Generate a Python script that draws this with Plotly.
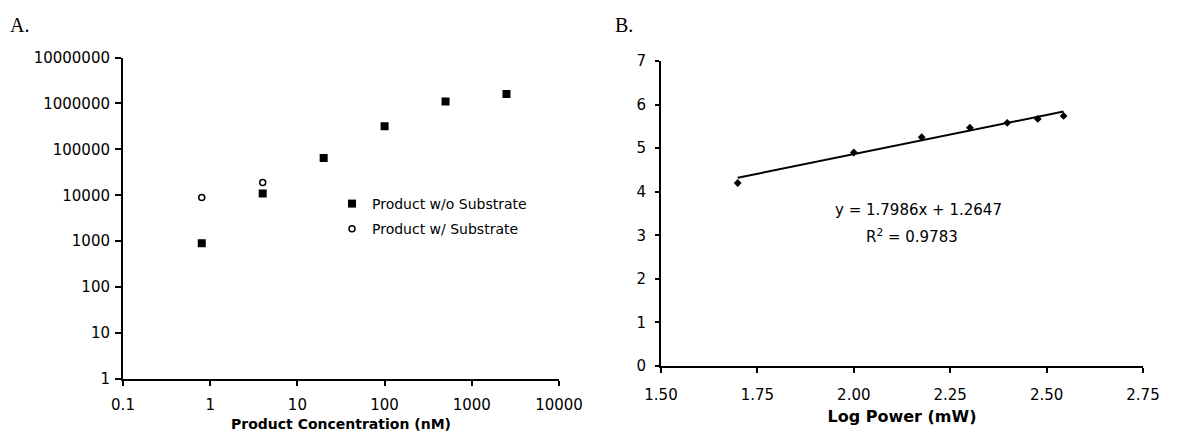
import numpy as np
import plotly.graph_objects as go

# Panel A: signal vs product concentration (log-log)
conc_no_sub = [0.8, 4, 20, 100, 500, 2500]
signal_no_sub = [900, 11000, 65000, 320000, 1100000, 1600000]
conc_with_sub = [0.8, 4]
signal_with_sub = [9000, 19000]

a_xticks = [0.1, 1, 10, 100, 1000, 10000]
a_xtick_text = ["0.1", "1", "10", "100", "1000", "10000"]
a_yticks = [1, 10, 100, 1000, 10000, 100000, 1000000, 10000000]
a_ytick_text = ["1", "10", "100", "1000", "10000", "100000", "1000000", "10000000"]

# Panel B: log signal vs log laser power
power_mw = [50, 100, 150, 200, 250, 300, 350]
log_signal = [4.20, 4.90, 5.25, 5.47, 5.58, 5.67, 5.74]
fit_slope = 1.7986
fit_intercept = 1.2647
fit_r2 = 0.9783

b_xticks = [1.50, 1.75, 2.00, 2.25, 2.50, 2.75]
b_yticks = [0, 1, 2, 3, 4, 5, 6, 7]

log_power = np.log10(power_mw)
fit_x = np.array([log_power.min(), log_power.max()])
fit_y = fit_slope * fit_x + fit_intercept

FONT = "DejaVu Sans"
BLACK = "#000000"
W, H = 1181, 432

fig = go.Figure()

fig.add_trace(go.Scatter(
    x=conc_no_sub, y=signal_no_sub, mode="markers",
    name="Product w/o Substrate", legendgroup="a",
    marker=dict(symbol="square", size=8, color=BLACK),
    xaxis="x", yaxis="y",
))
fig.add_trace(go.Scatter(
    x=conc_with_sub, y=signal_with_sub, mode="markers",
    name="Product w/ Substrate", legendgroup="b",
    marker=dict(symbol="circle-open", size=6, color=BLACK, line=dict(width=1.5, color=BLACK)),
    xaxis="x", yaxis="y",
))

fig.add_trace(go.Scatter(
    x=log_power, y=log_signal, mode="markers", showlegend=False,
    marker=dict(symbol="diamond", size=6, color=BLACK),
    xaxis="x2", yaxis="y2",
))
fig.add_trace(go.Scatter(
    x=fit_x, y=fit_y, mode="lines", showlegend=False,
    line=dict(color=BLACK, width=2),
    xaxis="x2", yaxis="y2",
))

axis_common = dict(
    showline=True, linecolor=BLACK, linewidth=2,
    ticks="outside", tickcolor=BLACK, tickwidth=2, ticklen=5,
    showgrid=False, zeroline=False, automargin=False,
    tickfont=dict(family=FONT, size=15, color=BLACK),
)

fig.update_layout(
    width=W, height=H,
    margin=dict(l=0, r=0, t=0, b=0, autoexpand=False),
    paper_bgcolor="white", plot_bgcolor="white",
    font=dict(family=FONT, color=BLACK),
    xaxis=dict(
        axis_common, type="log", range=[-1, 4], domain=[123 / W, 559 / W],
        tickvals=a_xticks, ticktext=a_xtick_text, anchor="y",
        ticklabelstandoff=6,
        title=dict(text="<b>Product Concentration (nM)</b>",
                   font=dict(family=FONT, size=14, color=BLACK), standoff=6),
    ),
    yaxis=dict(
        axis_common, type="log", range=[0, 7], domain=[1 - 379 / H, 1 - 57.5 / H],
        tickvals=a_yticks, ticktext=a_ytick_text, anchor="x",
        ticklen=6, ticklabelstandoff=2,
    ),
    xaxis2=dict(
        axis_common, range=[1.5, 2.75], domain=[661 / W, 1143 / W],
        tickvals=b_xticks, tickformat=".2f", anchor="y2",
        ticklabelstandoff=9,
        title=dict(text="<b>Log Power (mW)</b>",
                   font=dict(family=FONT, size=16, color=BLACK), standoff=8),
    ),
    yaxis2=dict(
        axis_common, range=[0, 7], domain=[1 - 366 / H, 1 - 61 / H],
        tickvals=b_yticks, anchor="x2", ticklabelstandoff=6, ticklen=4,
    ),
    legend=dict(
        x=332 / W, y=1 - 188 / H, xanchor="left", yanchor="top",
        font=dict(family=FONT, size=14, color=BLACK),
        bgcolor="rgba(0,0,0,0)", itemwidth=30, tracegroupgap=4,
    ),
)

# Panel labels in serif
for txt, px, py in [("A.", 8, 25), ("B.", 613, 25)]:
    fig.add_annotation(
        text=txt, x=px / W, y=1 - py / H, xref="paper", yref="paper",
        xanchor="left", yanchor="middle", showarrow=False,
        font=dict(family="Liberation Serif", size=20, color=BLACK),
    )

# Regression equation and R² for panel B
fig.add_annotation(
    text=f"y = {fit_slope:.4f}x + {fit_intercept:.4f}",
    x=918 / W, y=1 - 210 / H, xref="paper", yref="paper",
    xanchor="center", yanchor="middle",
    showarrow=False, font=dict(family=FONT, size=15, color=BLACK),
)
fig.add_annotation(
    text=f"R<sup>2</sup> = {fit_r2:.4f}",
    x=912 / W, y=1 - 236 / H, xref="paper", yref="paper",
    xanchor="center", yanchor="middle",
    showarrow=False, font=dict(family=FONT, size=15, color=BLACK),
)

fig.write_html("out.html")
